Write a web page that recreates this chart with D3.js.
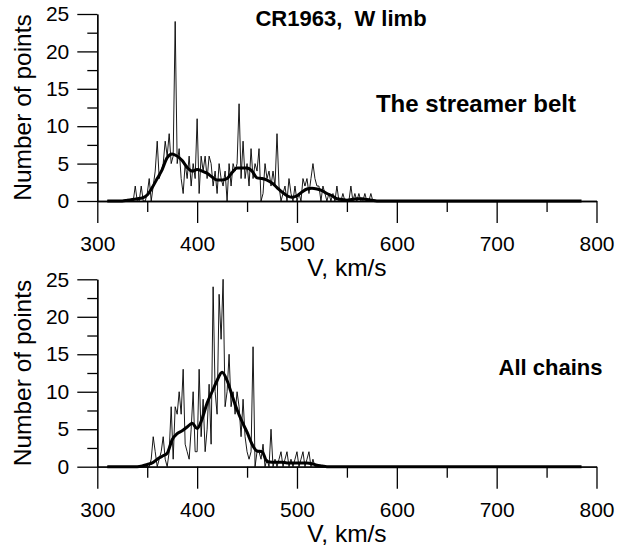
<!DOCTYPE html>
<html>
<head>
<meta charset="utf-8">
<script src="https://cdn.jsdelivr.net/npm/d3@7"></script>
<style>
  body { margin: 0; background: #fff; }
  svg text { font-family: "Liberation Sans", Arial, Helvetica, sans-serif; }
</style>
</head>
<body>
<svg id="chart" width="620" height="551"></svg>
<script>
// histogram bins: 2 km/s wide, first bin at 310 km/s
const binStart = 310;
const binWidth = 2;

// smoothed curves sampled every 5 km/s from 310 km/s
const smoothStart = 310;
const smoothStep = 5;

// x axis ticks
const majorV = [300, 400, 500, 600, 700, 800];
const minorV = [350, 450, 550, 650, 750];
// y axis ticks
const majorN = [0, 5, 10, 15, 20, 25];
const minorN = [2.5, 7.5, 12.5, 17.5, 22.5];

const chartTitle = 'CR1963,  W limb';
const panelNames = ['The streamer belt', 'All chains'];

// The streamer belt, counts per bin (310 ... 784)
const beltCounts = [
  0,0,0,0,0,0,0,0,0,0,0,0,0,0,
  2,0,0,2,0,0,1,3,0,2,4,8,3,4,5,8,6,9,5,6,24,5,7,3,1,5,3,6,2,5,3,11,1,6,4,6,
  3,6,5,2,4,1,5,3,2,4,0,5,2,5,4,5,13,3,8,3,5,2,7,3,5,4,7,0,1,5,3,4,2,4,2,9,
  2,0,1,2,0,3,1,0,2,0,1,0,3,2,3,1,3,5,3,2,2,0,2,1,0,1,0,1,0,2,0,0,1,0,0,0,
  2,0,1,0,1,0,0,1,0,0,1,0,0,
  0,0,0,0,0,0,0,0,0,0,0,0,0,0,0,0,0,0,0,0,0,0,0,0,0,0,0,0,0,0,0,0,0,0,0,0,
  0,0,0,0,0,0,0,0,0,0,0,0,0,0,0,0,0,0,0,0,0,0,0,0,0,0,0,0,0,0,0,0,0,0,0,0,
  0,0,0,0,0,0,0,0,0,0,0,0,0,0,0,0,0,0,0,0,0,0,0,0,0,0,0,0,0,0,0
];

// All chains, counts per bin (310 ... 784)
const chainCounts = [
  0,0,0,0,0,0,0,0,0,0,0,0,0,0,0,0,0,0,0,0,0,0,
  1,4,2,0,1,2,4,1,0,2,8,1,8,7,10,7,13,3,2,1,5,10,2,2,13,4,9,2,5,11,3,24,10,7,
  23,17,25,8,10,15,8,10,7,10,8,4,9,4,2,1,2,16,0,2,2,1,3,0,1,0,5,0,1,0,1,2,0,
  1,2,0,1,0,1,2,0,1,2,0,1,2,0,1,0,
  0,0,0,0,0,0,0,0,0,0,0,0,0,0,0,0,0,0,0,0,0,0,0,0,0,0,0,0,0,0,0,0,0,0,0,0,
  0,0,0,0,0,0,0,0,0,0,0,0,0,0,0,0,0,0,0,0,0,0,0,0,0,0,0,0,0,0,0,0,0,0,0,0,
  0,0,0,0,0,0,0,0,0,0,0,0,0,0,0,0,0,0,0,0,0,0,0,0,0,0,0,0,0,0,0,0,0,0,0,0,
  0,0,0,0,0,0,0,0,0,0,0,0,0,0,0,0,0,0,0,0,0,0,0,0,0
];

// running means (310 ... 785)
const beltSmooth = [
  0,0,0,0,0.1,0.2,0.3,0.4,0.8,1.8,3.0,4.2,5.8,6.3,6.0,5.4,4.5,4.0,4.2,4.0,
  3.7,3.2,2.8,2.8,3.0,3.8,4.4,4.4,4.4,4.0,3.1,3.0,2.8,2.4,1.8,1.2,0.7,0.5,0.7,1.2,
  1.6,1.7,1.6,1.4,1.0,0.7,0.3,0.2,0.1,0.2,0.3,0.3,0.2,0.1,
  0,0,0,0,0,0,0,0,0,0,0,0,0,0,0,0,0,0,0,0,0,
  0,0,0,0,0,0,0,0,0,0,0,0,0,0,0,0,0,0,0,0,0
];

const chainSmooth = [
  0,0,0,0,0,0,0,
  0.1,0.3,0.5,1.0,1.4,1.8,3.6,4.4,4.8,5.3,5.8,5.1,6.4,8.5,10.0,11.5,12.6,11.5,9.5,
  7.6,6.0,4.6,3.0,2.1,2.0,0.7,0.6,0.6,0.6,0.5,0.5,0.5,0.5,0.5,0.4,0.2,0.1,
  0,0,0,0,0,0,0,0,0,0,0,0,0,0,0,0,0,0,0,0,0,0,0,0,0,0,
  0,0,0,0,0,0,0,0,0,0,0,0,0,0,0,0,0,0,0,0,0,0,0,0,0,0
];

const svg = d3.select('#chart');

// draws one panel: axes, thin histogram line, thick smoothed line, labels
function drawPanel(counts, smooth, name, yTop, yZero, nameX, nameY, nameSize) {
  const x = d3.scaleLinear().domain([300, 800]).range([97.3, 596.5]);
  const y = d3.scaleLinear().domain([0, 25]).range([yZero, yTop]);

  const g = svg.append('g');

  // minor ticks first (no labels)
  g.append('g')
    .attr('transform', `translate(0,${yZero})`)
    .call(d3.axisBottom(x).tickValues(minorV).tickSize(11).tickSizeOuter(0).tickFormat(''));
  g.append('g')
    .attr('transform', `translate(0,${yZero})`)
    .call(d3.axisBottom(x).tickValues(majorV).tickSize(22).tickSizeOuter(0).tickPadding(13));

  g.append('g')
    .attr('transform', `translate(${x(300)},0)`)
    .call(d3.axisLeft(y).tickValues(minorN).tickSize(10).tickSizeOuter(0).tickFormat(''));
  g.append('g')
    .attr('transform', `translate(${x(300)},0)`)
    .call(d3.axisLeft(y).tickValues(majorN).tickSize(20).tickSizeOuter(0).tickPadding(8));

  g.selectAll('.domain, .tick line')
    .attr('stroke', '#000')
    .attr('stroke-width', 1.3);
  g.selectAll('.tick text')
    .attr('fill', '#000')
    .style('font-size', '21px');

  // histogram (thin)
  const thin = d3.line()
    .x((d, i) => x(binStart + i * binWidth))
    .y(d => y(d));
  g.append('path')
    .datum(counts)
    .attr('fill', 'none')
    .attr('stroke', '#000')
    .attr('stroke-width', 0.9)
    .attr('d', thin);

  // smoothed (thick)
  const thick = d3.line()
    .x((d, i) => x(smoothStart + i * smoothStep))
    .y(d => y(d))
    .curve(d3.curveMonotoneX);
  g.append('path')
    .datum(smooth)
    .attr('fill', 'none')
    .attr('stroke', '#000')
    .attr('stroke-width', 3)
    .attr('stroke-linejoin', 'round')
    .attr('d', thick);

  // axis titles
  g.append('text')
    .attr('x', (x(300) + x(800)) / 2)
    .attr('y', yZero + 75)
    .attr('text-anchor', 'middle')
    .style('font-size', '24.5px')
    .text('V, km/s');

  g.append('text')
    .attr('transform', `translate(31,${(yTop + yZero) / 2}) rotate(-90)`)
    .attr('text-anchor', 'middle')
    .style('font-size', '24.5px')
    .text('Number of points');

  g.append('text')
    .attr('x', nameX)
    .attr('y', nameY)
    .attr('text-anchor', 'middle')
    .style('font-size', nameSize + 'px')
    .style('font-weight', 'bold')
    .text(name);
}

drawPanel(beltCounts, beltSmooth, panelNames[0], 14, 201, 476, 112, 24);
drawPanel(chainCounts, chainSmooth, panelNames[1], 279.3, 466.7, 550.5, 375, 22);

svg.append('text')
  .attr('x', 341)
  .attr('y', 26)
  .attr('text-anchor', 'middle')
  .style('font-size', '22px')
  .style('font-weight', 'bold')
  .style('white-space', 'pre')
  .text(chartTitle);
</script>
</body>
</html>
